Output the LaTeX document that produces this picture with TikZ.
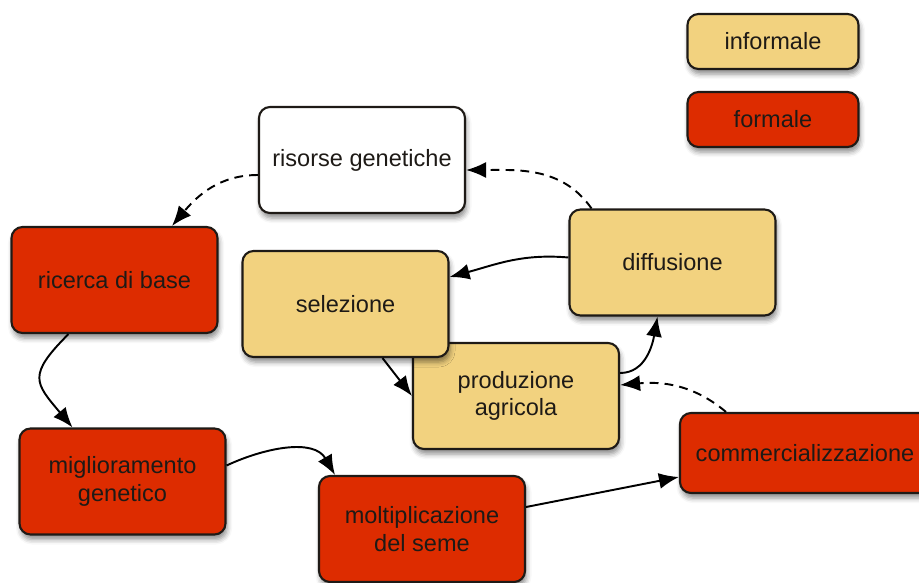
\documentclass[tikz,border=0pt]{standalone}
\usepackage{fontspec}
\setmainfont{Liberation Sans}
\usepackage{tikz}
\usetikzlibrary{arrows.meta,shadows.blur}

\definecolor{rosso}{HTML}{DD2C00}
\definecolor{giallo}{HTML}{F2D27F}
\definecolor{bordo}{HTML}{1E1A16}

\begin{document}
\begin{tikzpicture}[
        box/.style={draw=bordo, line width=1.2pt, rounded corners=0.22cm, align=center,
            minimum width=4.12cm, minimum height=2.12cm, text=bordo,
            font=\fontsize{13.4}{15.5}\selectfont,
            blur shadow={shadow xshift=0.03cm, shadow yshift=-0.1cm, shadow blur radius=0.1cm, shadow opacity=45}},
        info/.style={box, fill=giallo},
        form/.style={box, fill=rosso},
        freccia/.style={line width=1.1pt, -{Latex[length=0.4cm,width=0.32cm]}},
        tratto/.style={freccia, dash pattern=on 5pt off 3.5pt}
    ]
            \useasboundingbox (0,0) rectangle (18.38,-11.66);
            % legenda
            \node[info, minimum width=3.42cm, minimum height=1.1cm] (informale) at (15.46,-0.83) {informale};
            \node[form, minimum width=3.42cm, minimum height=1.1cm] (formale) at (15.46,-2.39) {formale};
            % nodi
            \node[box, fill=white] (risorse) at (7.24,-3.2) {risorse genetiche};
            \node[form] (ricerca) at (2.29,-5.6) {ricerca di base};
            \node[info] (diffusione) at (13.45,-5.25) {diffusione};
            \node[info] (produzione) at (10.32,-7.92) {produzione\\agricola};
            \node[info] (selezione) at (6.91,-6.08) {selezione};
            \node[form, minimum width=5cm, minimum height=1.6cm] (commercio) at (16.1,-9.06) {commercializzazione};
            \node[form] (miglioramento) at (2.45,-9.63) {miglioramento\\genetico};
            \node[form] (moltiplicazione) at (8.44,-10.58) {moltiplicazione\\del seme};
            % frecce
            \draw[tratto] ([yshift=-0.3cm]risorse.west) to[out=180,in=50] ([xshift=1.15cm]ricerca.north);
            \draw[tratto] ([xshift=-1.62cm]diffusione.north) to[out=125,in=0] ([yshift=-0.2cm]risorse.east);
            \draw[freccia] ([yshift=0.1cm]diffusione.west) to[out=175,in=15] ([yshift=0.54cm]selezione.east);
            \draw[freccia] ([xshift=0.74cm]selezione.south) -- (produzione.west);
            \draw[freccia] ([yshift=0.46cm]produzione.east) to[out=0,in=-100] ([xshift=-0.3cm]diffusione.south);
            \draw[tratto] ([xshift=-1.58cm]commercio.north) to[out=140,in=5] ([yshift=0.22cm]produzione.east);
            \draw[freccia] ([xshift=-0.92cm]ricerca.south) to[out=-135,in=130,looseness=1.6] ([xshift=-1cm]miglioramento.north);
            \draw[freccia] ([yshift=0.32cm]miglioramento.east) to[out=25,in=120] ([xshift=-1.74cm]moltiplicazione.north);
            \draw[freccia] ([yshift=0.44cm]moltiplicazione.east) -- ([yshift=-0.48cm]commercio.west);
        \end{tikzpicture}
\end{document}
